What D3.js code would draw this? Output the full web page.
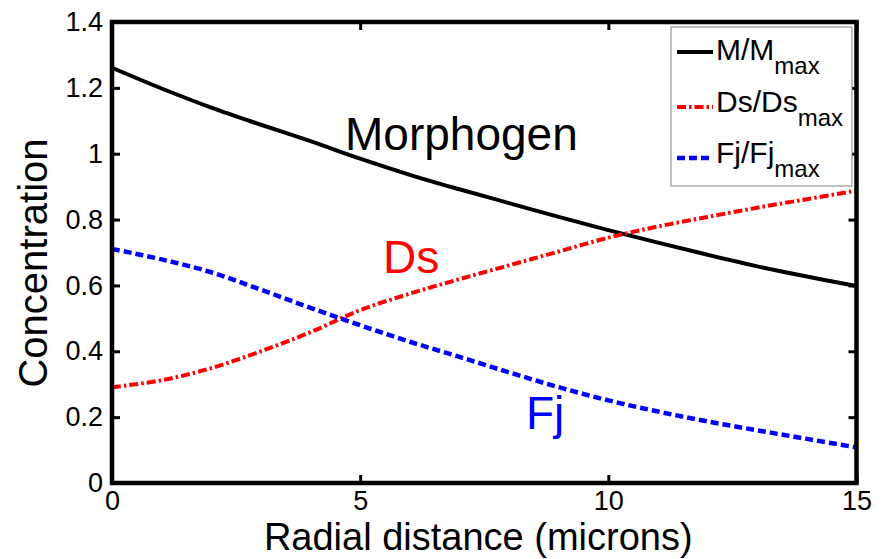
<!DOCTYPE html>
<html>
<head>
<meta charset="utf-8">
<script src="https://cdn.jsdelivr.net/npm/d3@7/dist/d3.min.js"></script>
<style>
  html, body { margin: 0; padding: 0; background: #fff; }
  svg { display: block; font-family: "Liberation Sans", Arial, Helvetica, sans-serif; }
</style>
</head>
<body>
<svg id="chart" width="890" height="559"></svg>
<script>
// ---- data ----
const radius = [0, 1, 2, 3, 4, 5, 6, 7, 8, 9, 10, 11, 12, 13, 14, 15];
const morphogen = [1.261, 1.198, 1.140, 1.088, 1.038, 0.985, 0.936, 0.892, 0.850, 0.808, 0.768, 0.730, 0.693, 0.658, 0.627, 0.598];
const ds = [0.291, 0.312, 0.349, 0.400, 0.458, 0.525, 0.575, 0.619, 0.661, 0.703, 0.745, 0.779, 0.808, 0.836, 0.862, 0.888];
const fj = [0.711, 0.679, 0.640, 0.587, 0.532, 0.479, 0.429, 0.383, 0.336, 0.291, 0.251, 0.217, 0.187, 0.160, 0.134, 0.108];
const xTicks = [0, 5, 10, 15];
const yTicks = [0, 0.2, 0.4, 0.6, 0.8, 1, 1.2, 1.4];
const xLabel = "Radial distance (microns)";
const yLabel = "Concentration";
const seriesNames = [["M/M", "max"], ["Ds/Ds", "max"], ["Fj/Fj", "max"]];
const curveLabels = ["Morphogen", "Ds", "Fj"];

// ---- layout ----
const svg = d3.select("#chart");
const L = 112, R = 856.5, T = 22, B = 483;
const x = d3.scaleLinear().domain([0, 15]).range([L, R]);
const y = d3.scaleLinear().domain([0, 1.4]).range([B, T]);

const styles = [
  { color: "#000000", dash: null, width: 4 },
  { color: "#ff0000", dash: "9,3,2.5,3", width: 4 },
  { color: "#0000ff", dash: "8,4", width: 4.5 }
];
const seriesData = [morphogen, ds, fj];

// ---- curves ----
const line = d3.line().x(d => x(d[0])).y(d => y(d[1])).curve(d3.curveCatmullRom.alpha(0.5));
seriesData.forEach((vals, i) => {
  svg.append("path")
    .datum(radius.map((r, k) => [r, vals[k]]))
    .attr("d", line)
    .attr("fill", "none")
    .attr("stroke", styles[i].color)
    .attr("stroke-width", styles[i].width)
    .attr("stroke-dasharray", styles[i].dash);
});

// ---- axes (box with inward ticks) ----
const tickLen = 8;
const axB = svg.append("g").attr("transform", `translate(0,${B})`)
  .call(d3.axisBottom(x).tickValues(xTicks).tickSizeInner(-tickLen).tickSizeOuter(0).tickPadding(8).tickFormat(d3.format("d")));
const axT = svg.append("g").attr("transform", `translate(0,${T})`)
  .call(d3.axisTop(x).tickValues(xTicks).tickSizeInner(-tickLen).tickSizeOuter(0).tickFormat(""));
const axL = svg.append("g").attr("transform", `translate(${L},0)`)
  .call(d3.axisLeft(y).tickValues(yTicks).tickSizeInner(-tickLen).tickSizeOuter(0).tickPadding(9).tickFormat(d => d3.format("")(+d.toFixed(1))));
const axR = svg.append("g").attr("transform", `translate(${R},0)`)
  .call(d3.axisRight(y).tickValues(yTicks).tickSizeInner(-tickLen).tickSizeOuter(0).tickFormat(""));

[axB, axT, axL, axR].forEach(g => {
  g.select(".domain").remove();
  g.selectAll(".tick line").attr("stroke", "#000").attr("stroke-width", 3);
  g.selectAll(".tick text").attr("fill", "#000").attr("font-size", 27)
    .attr("font-family", "'Liberation Sans', Arial, sans-serif");
});
axB.selectAll(".tick text").attr("dy", "0.72em");

svg.append("rect")
  .attr("x", L).attr("y", T).attr("width", R - L).attr("height", B - T)
  .attr("fill", "none").attr("stroke", "#000").attr("stroke-width", 4.5);

// ---- axis labels ----
svg.append("text").attr("x", (L + R) / 2 - 6).attr("y", 550)
  .attr("text-anchor", "middle").attr("font-size", 38).attr("fill", "#000").text(xLabel);
svg.append("text").attr("transform", `translate(47,${263}) rotate(-90)`)
  .attr("text-anchor", "middle").attr("font-size", 40).attr("fill", "#000").text(yLabel);

// ---- in-plot labels ----
const labelPos = [[345, 150], [383, 273], [526, 429]];
curveLabels.forEach((t, i) => {
  svg.append("text").attr("x", labelPos[i][0]).attr("y", labelPos[i][1])
    .attr("font-size", 46).attr("fill", styles[i].color).text(t);
});

// ---- legend ----
const lg = svg.append("g");
lg.append("rect").attr("x", 671).attr("y", 27).attr("width", 181).attr("height", 159)
  .attr("fill", "#fff").attr("stroke", "#808080").attr("stroke-width", 1);
const lineYs = [52, 107, 158];
const baseYs = [60, 112, 163];
seriesNames.forEach((nm, i) => {
  lg.append("line").attr("x1", 677).attr("x2", 713).attr("y1", lineYs[i]).attr("y2", lineYs[i])
    .attr("stroke", styles[i].color).attr("stroke-width", styles[i].width)
    .attr("stroke-dasharray", styles[i].dash);
  const t = lg.append("text").attr("x", 716).attr("y", baseYs[i]).attr("font-size", 30).attr("fill", "#000");
  t.append("tspan").text(nm[0]);
  t.append("tspan").attr("dy", 14).attr("font-size", 24).text(nm[1]);
});
</script>
</body>
</html>
